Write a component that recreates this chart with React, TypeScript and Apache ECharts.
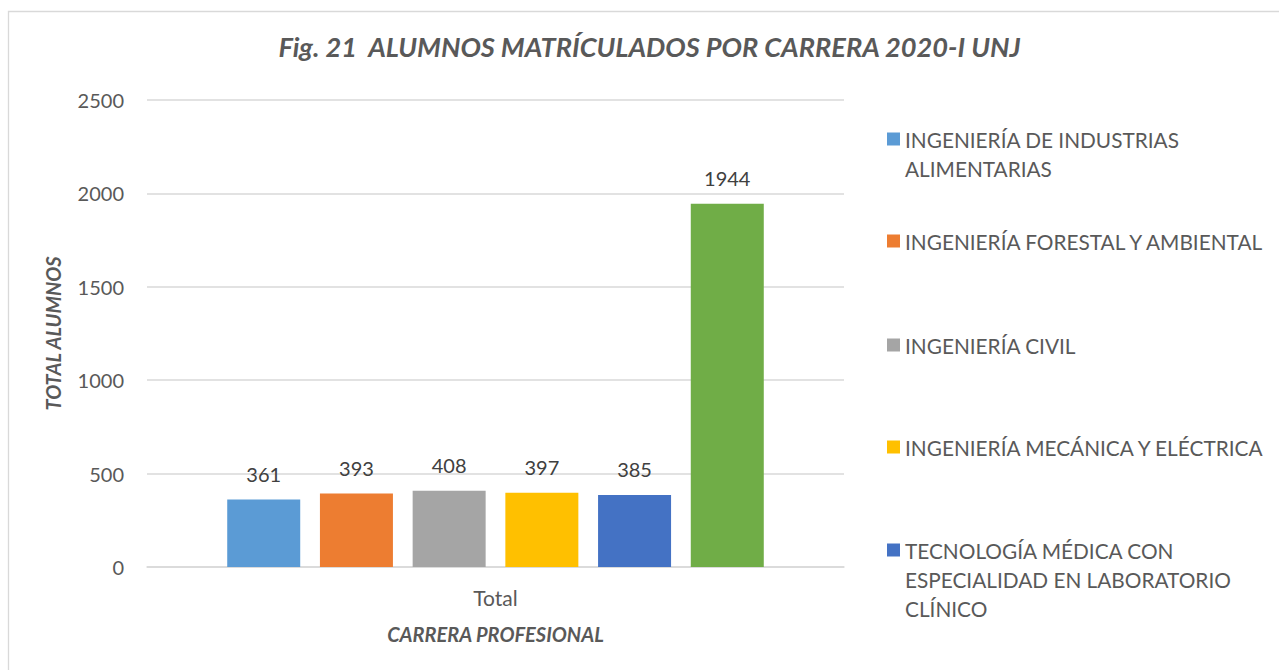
import React, { useEffect, useRef } from "react";
import * as echarts from "echarts";

const titleText = "Fig. 21  ALUMNOS MATRÍCULADOS POR CARRERA 2020-I UNJ";
const categories = ["Total"];
const seriesNames = [
  "INGENIERÍA DE INDUSTRIAS ALIMENTARIAS",
  "INGENIERÍA FORESTAL Y AMBIENTAL",
  "INGENIERÍA CIVIL",
  "INGENIERÍA MECÁNICA Y ELÉCTRICA",
  "TECNOLOGÍA MÉDICA CON ESPECIALIDAD EN LABORATORIO CLÍNICO",
  "TOTAL",
];
const legendLabels = [
  "INGENIERÍA DE INDUSTRIAS\nALIMENTARIAS",
  "INGENIERÍA FORESTAL Y AMBIENTAL",
  "INGENIERÍA CIVIL",
  "INGENIERÍA MECÁNICA Y ELÉCTRICA",
  "TECNOLOGÍA MÉDICA CON\nESPECIALIDAD EN LABORATORIO\nCLÍNICO",
];
const seriesValues = [361, 393, 408, 397, 385, 1944];
const seriesColors = ["#5B9BD5", "#ED7D31", "#A5A5A5", "#FFC000", "#4472C4", "#70AD47"];
const legendCenters = [140, 242, 346, 448, 551];

const FONT = "Lato, 'Open Sans', sans-serif";
const LINE_H = 29;

export default function App() {
  const ref = useRef<HTMLDivElement>(null);
  useEffect(() => {
    if (!ref.current) return;
    const chart = echarts.init(ref.current, undefined, { renderer: "svg" });

    const legends = legendLabels.map((lab, i) => {
      const lines = lab.split("\n").length;
      const blockH = (2 * lines - 1) * LINE_H;
      // leading blank lines keep the marker beside the first text line
      const shown = "\n".repeat(lines - 1) + lab;
      return {
        data: [seriesNames[i]],
        orient: "vertical",
        left: 887,
        top: legendCenters[i] - blockH / 2 - 1,
        padding: 0,
        itemWidth: 13,
        itemHeight: 13,
        icon: "rect",
        selectedMode: false,
        formatter: () => shown,
        textStyle: {
          fontFamily: FONT,
          fontSize: 20.8,
          lineHeight: LINE_H,
          color: "#595959",
        },
      };
    });

    chart.setOption({
      animation: false,
      backgroundColor: "#ffffff",
      textStyle: { fontFamily: FONT },
      title: {
        text: titleText,
        left: 649.5,
        top: 33,
        padding: 0,
        textAlign: "center",
        textStyle: {
          fontFamily: FONT,
          fontSize: 27.2,
          fontWeight: "bold",
          fontStyle: "italic",
          color: "#595959",
        },
      },
      legend: legends,
      grid: { left: 147, right: 435, top: 100, bottom: 103, containLabel: false },
      xAxis: {
        type: "category",
        data: categories,
        axisLine: { lineStyle: { color: "#D9D9D9", width: 1.5 } },
        axisTick: { show: false },
        axisLabel: { fontFamily: FONT, fontSize: 21, color: "#595959", margin: 20 },
        name: "CARRERA PROFESIONAL",
        nameLocation: "middle",
        nameGap: 57,
        nameTextStyle: {
          fontFamily: FONT,
          fontSize: 20,
          fontWeight: "bold",
          fontStyle: "italic",
          color: "#595959",
        },
      },
      yAxis: {
        type: "value",
        min: 0,
        max: 2500,
        interval: 500,
        axisLine: { show: false },
        axisTick: { show: false },
        splitLine: { lineStyle: { color: "#D9D9D9", width: 1.5 } },
        axisLabel: {
          fontFamily: FONT,
          fontSize: 20,
          color: "#595959",
          margin: 23,
          formatter: (v: number) => String(v),
        },
        name: "TOTAL ALUMNOS",
        nameLocation: "middle",
        nameRotate: 90,
        nameGap: 84,
        nameTextStyle: {
          fontFamily: FONT,
          fontSize: 20,
          fontWeight: "bold",
          fontStyle: "italic",
          color: "#595959",
        },
      },
      graphic: [
        {
          type: "rect",
          shape: { x: 8.5, y: 11.5, width: 1300, height: 700 },
          style: { fill: "none", stroke: "#D9D9D9", lineWidth: 1.3 },
          silent: true,
        },
      ],
      series: seriesNames.map((name, i) => ({
        type: "bar",
        name,
        data: [seriesValues[i]],
        barWidth: 73,
        barGap: "27%",
        itemStyle: { color: seriesColors[i] },
        label: {
          show: true,
          position: "top",
          distance: 16,
          fontFamily: FONT,
          fontSize: 20,
          color: "#404040",
        },
      })),
    });
    return () => chart.dispose();
  }, []);
  return (
    <div
      ref={ref}
      style={{ position: "fixed", left: 0, top: 0, width: 1279, height: 670 }}
    />
  );
}
